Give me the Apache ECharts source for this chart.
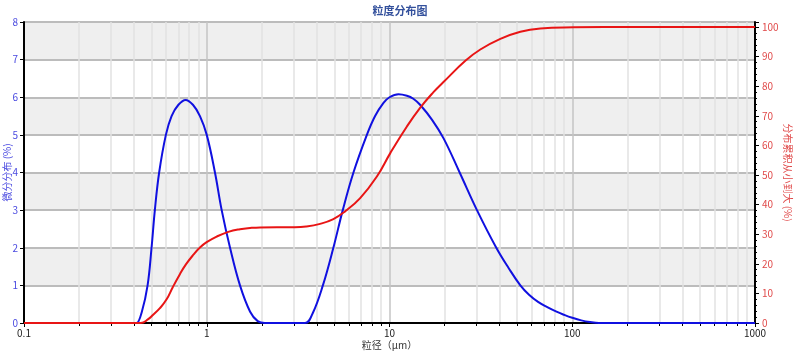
<!DOCTYPE html>
<html>
<head>
<meta charset="utf-8">
<script src="https://cdn.jsdelivr.net/npm/echarts@6/dist/echarts.min.js"></script>
<style>html,body{margin:0;padding:0;background:#fff;}#c{width:800px;height:359px;}</style>
</head>
<body>
<div id="c"></div>
<script>
// ---- data ----
const titleText = '粒度分布图';
const xName = '粒径（μm）';
const leftName = '微分分布 (%)';
const rightName = '分布累积从小到大 (%)';

// differential distribution (left axis, %)
const diffX = [0.1, 0.40, 0.413, 0.4415, 0.4745, 0.4988, 0.520, 0.549, 0.5975, 0.642, 0.70, 0.766, 0.84, 0.918, 1.0, 1.109, 1.207, 1.341, 1.52, 1.727, 1.9, 2.08,
  3.45, 3.8, 4.32, 4.93, 5.55, 6.35, 7.52, 8.34, 9.27, 10.0, 11.2, 12.45, 13.5, 14.7, 17.1, 19.8, 24.2, 30.1, 38.4, 45, 52, 58, 65, 73, 82, 90, 100, 112, 125, 140, 1000];
const diffY = [0, 0, 0, 0.3, 1.0, 2.0, 3.0, 4.0, 5.0, 5.5, 5.8, 5.93, 5.8, 5.5, 5.0, 4.0, 3.0, 2.0, 1.0, 0.3, 0.05, 0,
  0, 0.26, 1.0, 2.0, 3.0, 4.0, 5.0, 5.5, 5.85, 6.0, 6.08, 6.04, 5.96, 5.80, 5.40, 4.90, 4.0, 3.0, 2.0, 1.45, 1.0, 0.75, 0.56, 0.42, 0.3, 0.22, 0.14, 0.07, 0.025, 0, 0];

// cumulative distribution (right axis, %)
const cumX = [0.1, 0.4359, 0.4762, 0.509, 0.5542, 0.6031, 0.6506, 0.7129, 0.7691, 0.8433, 0.9178, 0.9988, 1.133, 1.3115, 1.52, 1.7251, 1.9563, 3.0, 3.5,
  4.17, 4.93, 5.71, 6.91, 8.53, 10.1, 12.45, 14.7, 17.4, 19.8, 26.0, 31.4, 40.4, 52.0, 66.9, 101.9, 150, 1000];
const cumY = [0, 0, 1.2, 2.8, 5.0, 8.0, 12.0, 16.5, 19.8, 23.0, 25.5, 27.3, 29.2, 30.8, 31.7, 32.1, 32.3, 32.35, 32.6,
  33.5, 35.1, 37.7, 42.2, 49.5, 57.4, 66.4, 72.7, 78.0, 81.5, 88.6, 92.4, 96, 98.4, 99.5, 99.9, 100, 100];

const xDecades = [0.1, 1, 10, 100];
const xMinorMultipliers = [2, 3, 4, 5, 6, 7, 8, 9];

// minor log grid positions (axis helper, not data)
const xMinorValues = [];
xDecades.forEach(d => xMinorMultipliers.forEach(m => xMinorValues.push(+(d * m).toPrecision(3))));

const font = '"Noto Sans CJK SC", "DejaVu Sans", sans-serif';
const chart = echarts.init(document.getElementById('c'), null, {renderer: 'canvas'});
chart.setOption({
  animation: false,
  backgroundColor: '#fff',
  title: {
    text: titleText, left: 'center', top: 0,
    textStyle: {fontSize: 11, fontWeight: 'bold', color: '#33509c', fontFamily: font}
  },
  grid: {left: 24, right: 45, top: 22, bottom: 36, containLabel: false, outerBoundsMode: 'none'},
  xAxis: [{
    type: 'log', logBase: 10, min: 0.1, max: 1000,
    name: xName, nameLocation: 'middle', nameGap: 17, nameMoveOverlap: false,
    nameTextStyle: {fontSize: 10, color: '#333', fontFamily: font},
    axisLine: {show: true, lineStyle: {color: '#000', width: 2}},
    axisTick: {show: true, length: 4, lineStyle: {color: '#000'}},
    axisLabel: {fontSize: 10, color: '#222', margin: 5, fontFamily: font, formatter: v => String(v)},
    splitLine: {show: true, lineStyle: {color: '#c4c4c4', width: 1.5}}
  }, {
    type: 'log', logBase: 10, min: 0.1, max: 1000, position: 'bottom',
    axisLine: {show: false},
    axisTick: {show: true, length: 3, customValues: xMinorValues, lineStyle: {color: '#000'}},
    axisLabel: {show: false},
    splitLine: {show: true, lineStyle: {color: '#e2e2e2', width: 1.5}}
  }],
  yAxis: [{
    type: 'value', min: 0, max: 8, interval: 1,
    name: leftName, nameLocation: 'middle', nameGap: 12, nameRotate: 90, nameMoveOverlap: false,
    nameTextStyle: {fontSize: 10, color: '#4a4ae0', fontFamily: font},
    axisLine: {show: true, lineStyle: {color: '#000', width: 2}},
    axisTick: {show: true, length: 4, lineStyle: {color: '#000'}},
    axisLabel: {fontSize: 10, color: '#4a4ae0', margin: 6, fontFamily: font},
    splitLine: {show: true, lineStyle: {color: '#bcbcbc', width: 2}},
    splitArea: {show: true, areaStyle: {color: ['#ffffff', '#efefef']}}
  }, {
    type: 'value', min: 0, max: 101.7, interval: 10, position: 'right',
    name: rightName, nameLocation: 'middle', nameGap: 28, nameRotate: -90, nameMoveOverlap: false,
    nameTextStyle: {fontSize: 10, color: '#e04a4a', fontFamily: font},
    axisLine: {show: true, lineStyle: {color: '#000', width: 2}},
    axisTick: {show: true, length: 4, lineStyle: {color: '#000'}},
    minorTick: {show: true, splitNumber: 5, length: 2, lineStyle: {color: '#000'}},
    axisLabel: {fontSize: 10, color: '#e04a4a', margin: 7, fontFamily: font, showMaxLabel: false,
      formatter: v => (v % 10 === 0 ? String(v) : '')},
    splitLine: {show: false}
  }],
  series: [{
    name: leftName, type: 'line', xAxisIndex: 0, yAxisIndex: 0,
    data: diffX.map((x, i) => [x, diffY[i]]),
    smooth: 0.4, showSymbol: false,
    lineStyle: {color: '#1010e0', width: 2}, z: 3
  }, {
    name: rightName, type: 'line', xAxisIndex: 0, yAxisIndex: 1,
    data: cumX.map((x, i) => [x, cumY[i]]),
    smooth: 0.45, showSymbol: false,
    lineStyle: {color: '#e81515', width: 2}, z: 4
  }]
});
</script>
</body>
</html>
